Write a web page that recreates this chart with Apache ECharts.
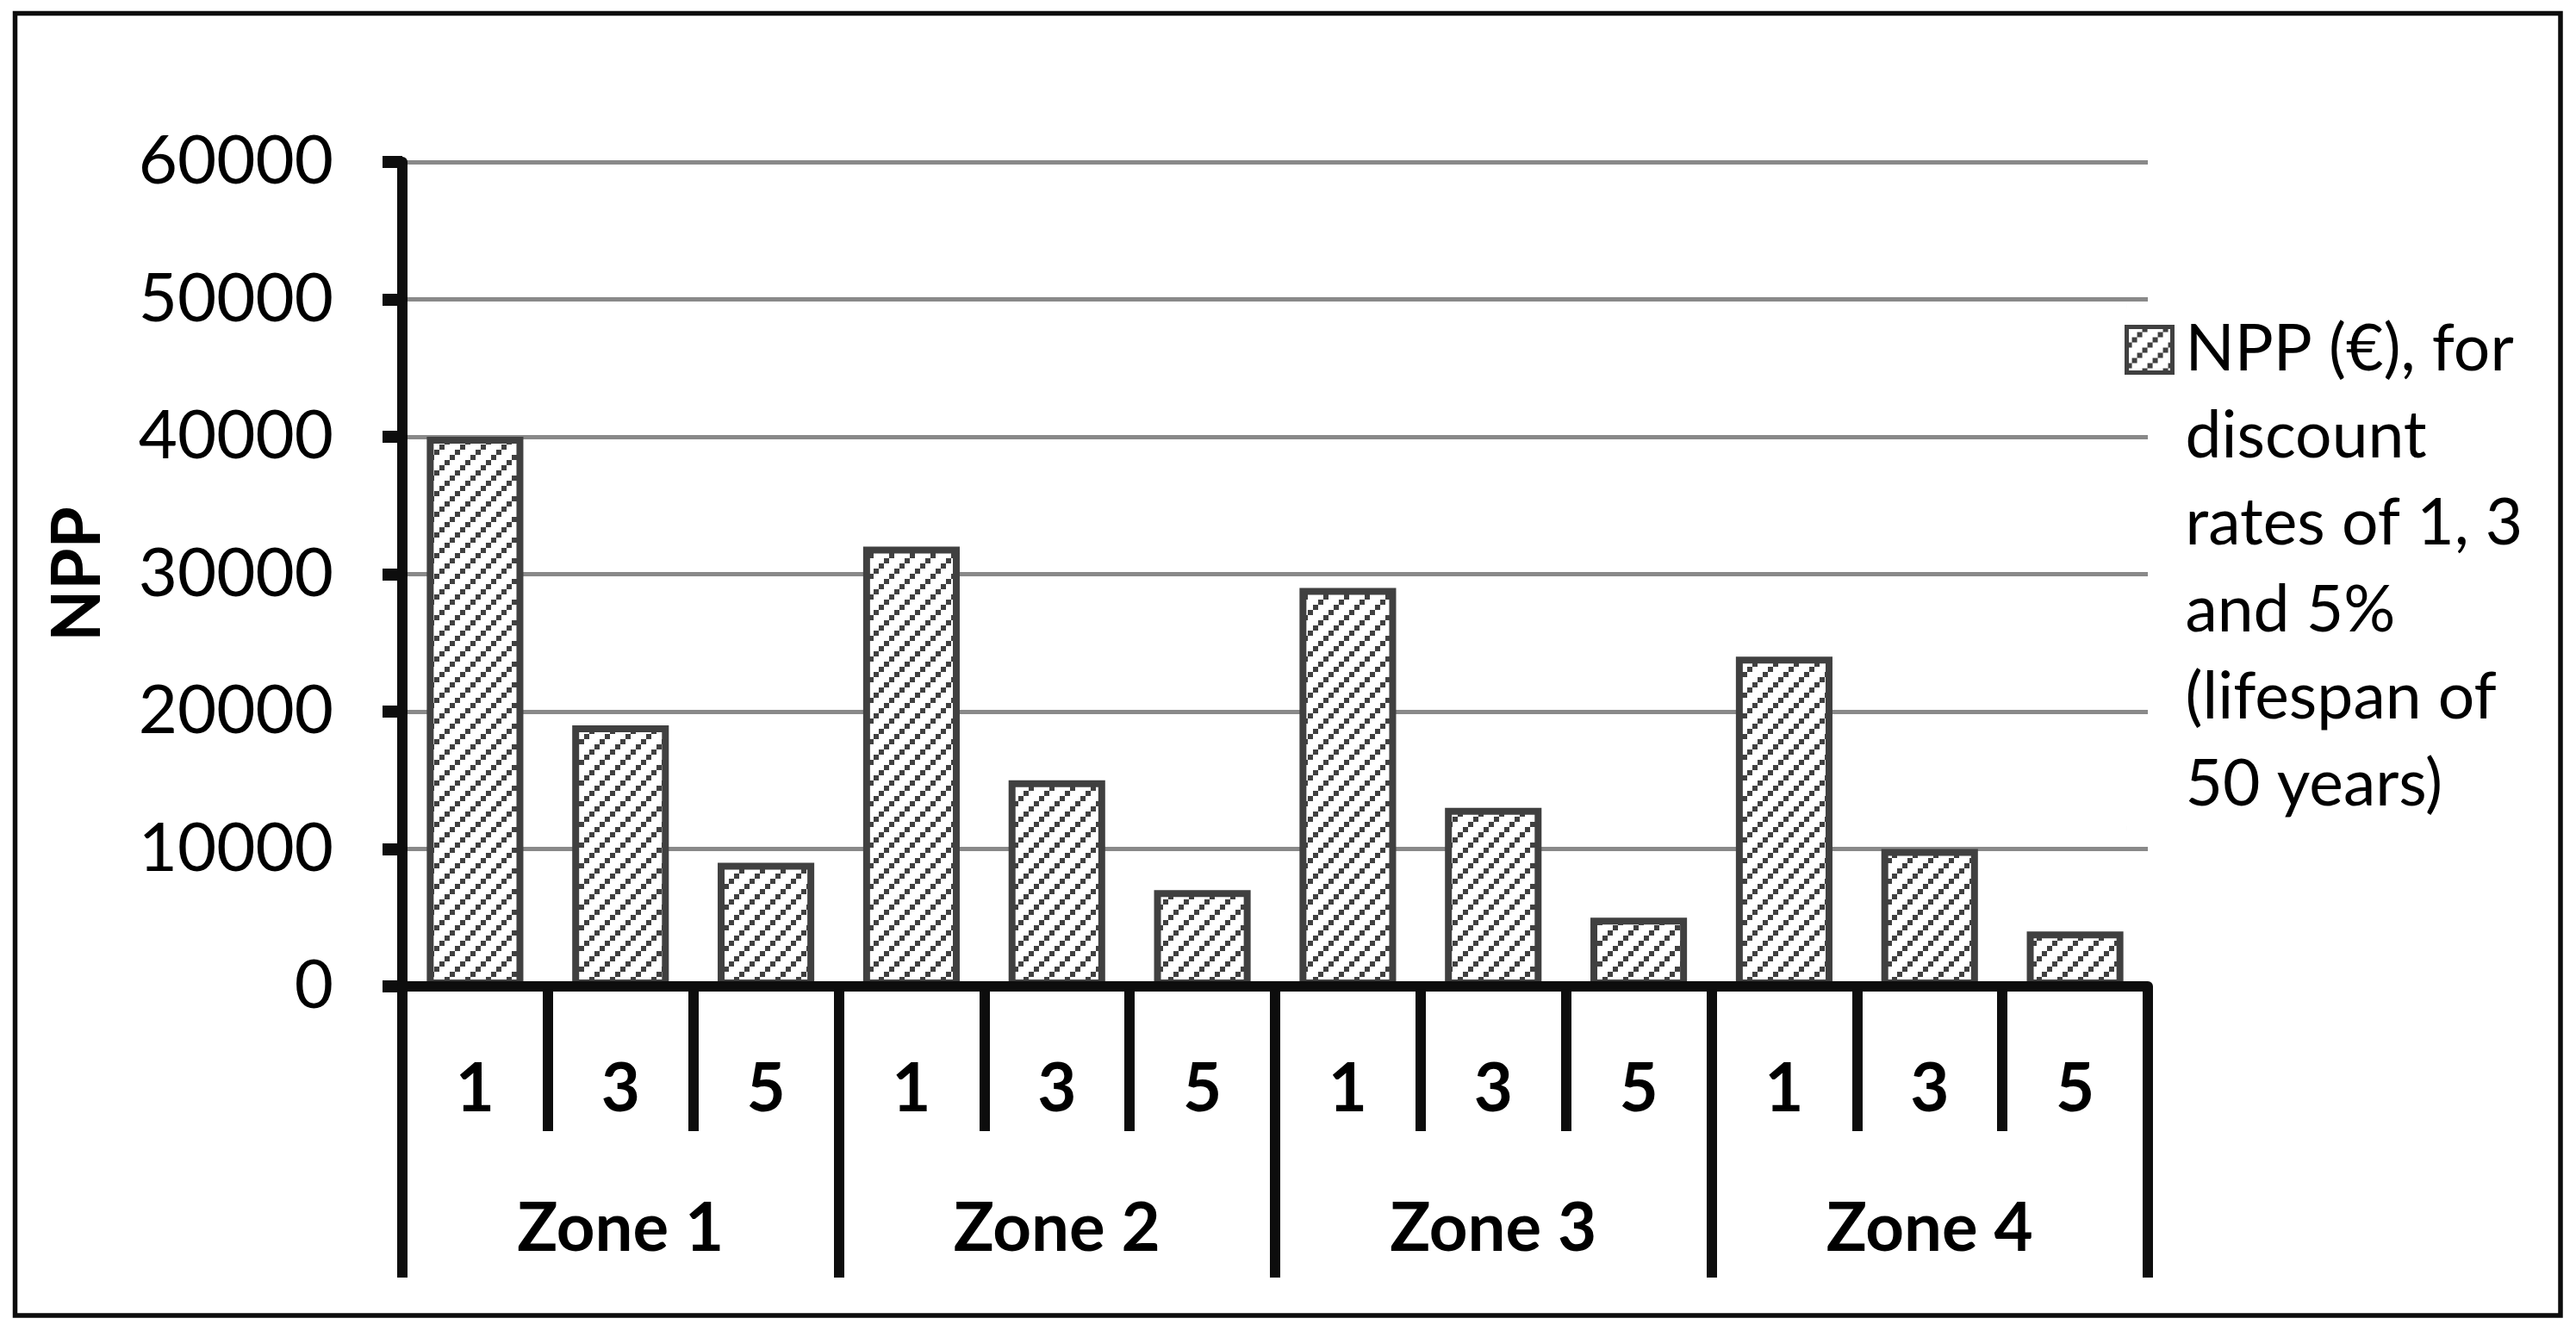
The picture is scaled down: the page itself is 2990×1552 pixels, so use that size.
<!DOCTYPE html>
<html>
<head>
<meta charset="utf-8">
<script src="https://cdn.jsdelivr.net/npm/echarts@6/dist/echarts.min.js"></script>
<style>
html,body{margin:0;padding:0;background:#ffffff;}
#chart{width:2990px;height:1552px;}
</style>
</head>
<body>
<div id="chart"></div>
<script>
// ---- data ----
const rateLabels = ['1', '3', '5', '1', '3', '5', '1', '3', '5', '1', '3', '5'];
const zoneLabels = ['Zone 1', 'Zone 2', 'Zone 3', 'Zone 4'];
const nppValues = [40000, 19000, 9000, 32000, 15000, 7000, 29000, 13000, 5000, 24000, 10000, 4000];
const yMin = 0, yMax = 60000, yStep = 10000;
const seriesName = 'NPP (€), for\ndiscount\nrates of 1, 3\nand 5%\n(lifespan of\n50 years)';
const yAxisTitle = 'NPP';

// ---- hatch pattern (upward diagonal of small blocks) ----
function makeHatch() {
  const s = 24, b = 6;
  const c = document.createElement('canvas');
  c.width = s; c.height = s;
  const ctx = c.getContext('2d');
  ctx.fillStyle = '#ffffff';
  ctx.fillRect(0, 0, s, s);
  ctx.fillStyle = '#404040';
  for (let k = 0; k < 4; k++) {
    ctx.fillRect(s - b - k * b, k * b, b, b);
  }
  return c;
}
const hatch = { image: makeHatch(), repeat: 'repeat' };

const chart = echarts.init(document.getElementById('chart'), null, { renderer: 'canvas' });
const FONT = 'Lato';
const AXIS = '#0d0d0d';
const LEG_LINE = 101;
const LEG_H = LEG_LINE * 6;

chart.setOption({
  animation: false,
  backgroundColor: '#ffffff',
  grid: { left: 467, right: 497, top: 188, bottom: 407, containLabel: false },
  legend: {
    show: true,
    left: 2466,
    top: 353,
    padding: 0,
    orient: 'vertical',
    itemWidth: 53,
    itemHeight: LEG_H,
    // square at the top of a tall item so it sits beside the first text line
    icon: 'path://M0,0L0.01,0M0,24L53,24L53,77L0,77ZM0,' + LEG_H + 'L0.01,' + LEG_H,
    selectedMode: false,
    itemStyle: { borderWidth: 5, borderColor: '#404040' },
    textStyle: {
      fontFamily: FONT, fontSize: 75, color: '#000000',
      lineHeight: LEG_LINE, padding: [0, 0, 0, 10]
    },
    data: [seriesName]
  },
  xAxis: [
    {
      type: 'category',
      data: rateLabels,
      position: 'bottom',
      z: 5,
      axisLine: { show: true, lineStyle: { color: AXIS, width: 12 } },
      axisTick: { show: true, interval: 0, length: 168, alignWithLabel: false, lineStyle: { color: AXIS, width: 12 } },
      axisLabel: {
        show: true, interval: 0, margin: 81,
        fontFamily: FONT, fontSize: 78, fontWeight: 'bold', color: '#000000', lineHeight: 78
      },
      splitLine: { show: false }
    },
    {
      type: 'category',
      data: zoneLabels,
      position: 'bottom',
      z: 5,
      axisLine: { show: false },
      axisTick: { show: true, interval: 0, length: 338, alignWithLabel: false, lineStyle: { color: AXIS, width: 12 } },
      axisLabel: {
        show: true, interval: 0, margin: 243,
        fontFamily: FONT, fontSize: 78, fontWeight: 'bold', color: '#000000', lineHeight: 78
      },
      splitLine: { show: false }
    }
  ],
  yAxis: {
    type: 'value',
    min: yMin, max: yMax, interval: yStep,
    name: yAxisTitle,
    nameLocation: 'middle',
    nameRotate: 90,
    nameGap: 337,
    nameTextStyle: { fontFamily: FONT, fontSize: 78, fontWeight: 'bold', color: '#000000', lineHeight: 78 },
    axisLine: { show: true, lineStyle: { color: AXIS, width: 12 } },
    axisTick: { show: true, length: 23, lineStyle: { color: AXIS, width: 14 } },
    axisLabel: {
      margin: 80, fontFamily: FONT, fontSize: 78, color: '#000000',
      formatter: function (v) { return String(v); }
    },
    splitLine: { show: true, lineStyle: { color: '#898989', width: 5 } }
  },
  series: [
    {
      name: seriesName,
      type: 'bar',
      xAxisIndex: 0,
      data: nppValues,
      barCategoryGap: '33.6%',
      itemStyle: { color: hatch, borderColor: '#404040', borderWidth: 8 },
      emphasis: { disabled: true }
    }
  ],
  graphic: [
    {
      type: 'rect',
      shape: { x: 17.5, y: 15.5, width: 2954.5, height: 1511.5 },
      style: { fill: null, stroke: '#0d0d0d', lineWidth: 5.5 },
      silent: true,
      z: 10
    }
  ]
});
</script>
</body>
</html>
